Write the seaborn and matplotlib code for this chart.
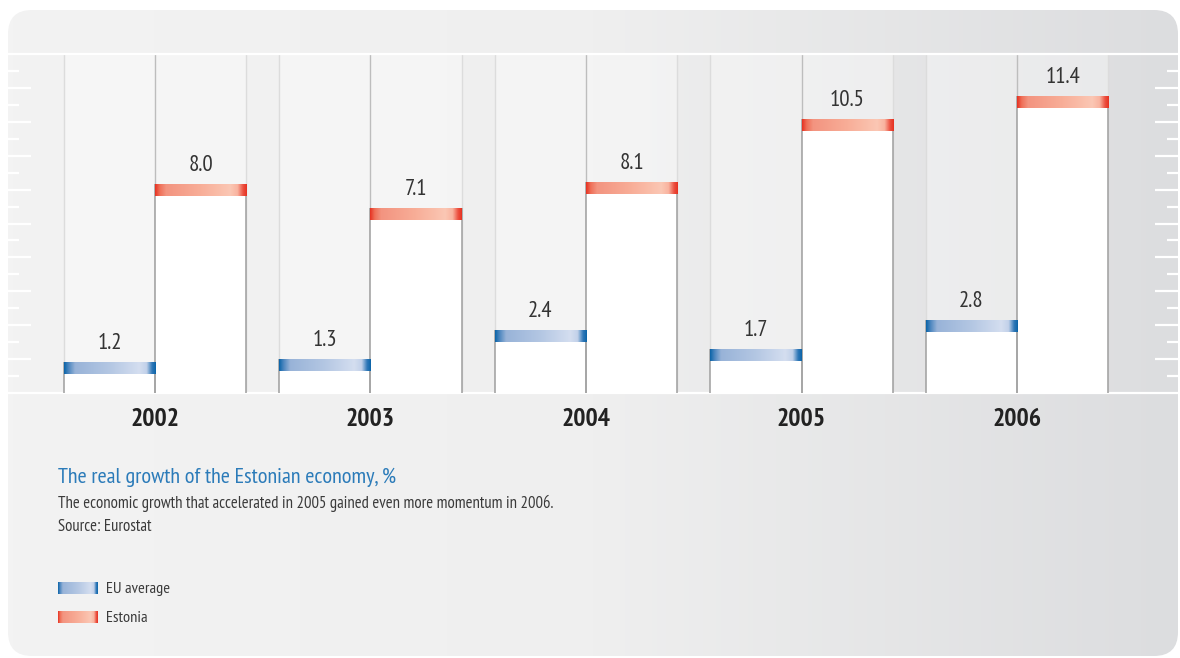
import numpy as np
import pandas as pd
import seaborn as sns
import matplotlib.pyplot as plt
from matplotlib.colors import LinearSegmentedColormap
from matplotlib.patches import FancyBboxPatch

# ========================================
# Data
# ========================================
years = ['2002', '2003', '2004', '2005', '2006']
eu_average = [1.2, 1.3, 2.4, 1.7, 2.8]
estonia = [8.0, 7.1, 8.1, 10.5, 11.4]
series_names = ['EU average', 'Estonia']

title = 'The real growth of the Estonian economy, %'
subtitle = 'The economic growth that accelerated in 2005 gained even more momentum in 2006.'
source = 'Source: Eurostat'

df = pd.DataFrame({
    'year': years * 2,
    'value': eu_average + estonia,
    'series': [series_names[0]] * len(years) + [series_names[1]] * len(years),
})

# ========================================
# Style
# ========================================
sns.set_style('white')
plt.rcParams['font.family'] = ['PT Sans Narrow', 'Roboto Condensed', 'DejaVu Sans']

W, H = 1180, 658
CAP = 0.46  # height of the coloured cap, in data units

blue_cmap = LinearSegmentedColormap.from_list('eu', [
    (0.0, '#0b64a8'), (0.05, '#4f88c0'), (0.12, '#98b3d8'), (0.5, '#b4c7e3'),
    (0.82, '#d4def0'), (0.9, '#c2d1e9'), (0.96, '#3078b8'), (1.0, '#0b64a8')])
red_cmap = LinearSegmentedColormap.from_list('ee', [
    (0.0, '#e63222'), (0.05, '#ef6f58'), (0.12, '#f39480'), (0.5, '#f8ae98'),
    (0.82, '#fbc7b4'), (0.9, '#f9b39f'), (0.96, '#ec5040'), (1.0, '#e63222')])
cap_cmaps = {series_names[0]: blue_cmap, series_names[1]: red_cmap}
grad = np.linspace(0, 1, 256).reshape(1, -1)

fig = plt.figure(figsize=(W / 100, H / 100), dpi=100)
fig.patch.set_facecolor('white')

# background card (pixel coordinates)
bg = fig.add_axes([0, 0, 1, 1])
card = FancyBboxPatch((8, 10), 1170, 646, boxstyle='round,pad=0,rounding_size=24',
                      facecolor='none', edgecolor='none', transform=bg.transData)
bg.add_patch(card)
card_cmap = LinearSegmentedColormap.from_list('card', ['#f3f3f3', '#efefef', '#dcdddf'])
im = bg.imshow(grad, cmap=card_cmap, extent=(8, 1178, 656, 10), aspect='auto')
im.set_clip_path(card)

# legend swatches
for name, y0 in zip(series_names, [582, 611]):
    bg.imshow(grad, cmap=cap_cmaps[name], extent=(58, 98, y0 + 12, y0), aspect='auto')
    bg.text(106, y0 + 6.5, name, fontsize=11.8, color='#3a3a3a', va='center')

bg.set_xlim(0, W)
bg.set_ylim(H, 0)
bg.axis('off')

# ========================================
# Bars
# ========================================
ax = fig.add_axes([8 / W, 1 - 393 / H, 1170 / W, 339 / H])
ax.set_facecolor('none')

sns.barplot(data=df, x='year', y='value', hue='series', hue_order=series_names,
            palette=['white', 'white'], saturation=1, width=0.845, gap=0,
            linewidth=0, legend=False, ax=ax, zorder=2)

eu_bars, ee_bars = ax.containers[0], ax.containers[1]
for b_eu, b_ee in zip(eu_bars, ee_bars):
    left = b_eu.get_x()
    mid = b_ee.get_x()
    right = b_ee.get_x() + b_ee.get_width()
    ax.axvspan(left, right, color='white', alpha=0.35, lw=0, zorder=0)
    ax.axvline(left, color='#dcdcdc', lw=1, zorder=0.5)
    ax.axvline(right, color='#dcdcdc', lw=1, zorder=0.5)
    ax.axvline(mid, color='#bdbdbd', lw=1, zorder=0.5)

for name, cont in zip(series_names, ax.containers):
    for bar in cont:
        x0 = bar.get_x()
        x1 = x0 + bar.get_width()
        h = bar.get_height()
        ax.vlines([x0, x1], 0, h, color='#a5a5a5', lw=1.2, zorder=3)
        ax.imshow(grad, cmap=cap_cmaps[name], extent=(x0, x1, h - CAP, h),
                  aspect='auto', zorder=4)
        ax.text((x0 + x1) / 2, h + 0.5, f'{h:.1f}', ha='center', va='baseline',
                fontsize=16.5, color='#333333', zorder=5)

ax.set_xlim(-0.682, 4.747)
ax.set_ylim(0, 13)

# decorative ticks
ax.set_yticks(np.arange(2, 20, 2) * 0.65)
ax.set_yticks(np.arange(1, 20, 2) * 0.65, minor=True)
ax.tick_params(axis='y', which='major', direction='in', length=16.5, width=1.6,
               color='white', left=True, right=True, labelleft=False)
ax.tick_params(axis='y', which='minor', direction='in', length=8, width=1.6,
               color='white', left=True, right=True, labelleft=False)

ax.set_xticks(range(len(years)))
ax.set_xticklabels(years, fontsize=18.5, fontweight='bold', color='#222222')
ax.tick_params(axis='x', length=0, pad=11)
ax.set_xlabel('')
ax.set_ylabel('')

for s in ['left', 'right']:
    ax.spines[s].set_visible(False)
for s in ['top', 'bottom']:
    ax.spines[s].set_color('white')
    ax.spines[s].set_linewidth(1.6)

# ========================================
# Texts
# ========================================
fig.text(58 / W, 1 - 477 / H, title, fontsize=16, color='#2b7bb9', va='center')
fig.text(58 / W, 1 - 503 / H, subtitle, fontsize=12, color='#3a3a3a', va='center')
fig.text(58 / W, 1 - 527 / H, source, fontsize=12, color='#3a3a3a', va='center')

fig.savefig('out.png', dpi=100)
